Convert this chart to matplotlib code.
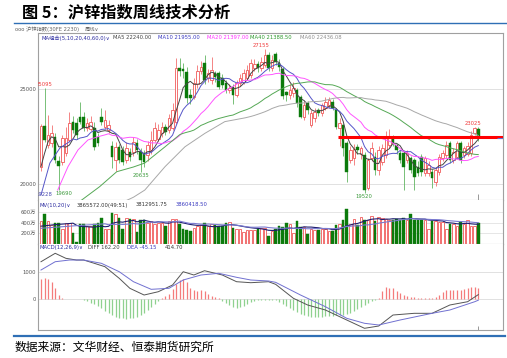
import numpy as np
import pandas as pd
import matplotlib
matplotlib.use("Agg")
import matplotlib.pyplot as plt
import matplotlib.lines as mlines

plt.rcParams["font.family"] = ["DejaVu Sans", "Noto Sans CJK SC"]

# ---- weekly bars, 沪锌指数 ----
opens = [20920, 23070, 22060, 22150, 22500, 21230, 21180, 21640, 22330, 23280,
         23250, 23560, 23560, 22960, 22900, 22960, 22500, 23540, 23030, 22860,
         22010, 21270, 21940, 21800, 21270, 21710, 21710, 22150, 21710, 21620,
         21540, 21800, 22330, 22400, 22680, 23030, 22860, 22950, 23300, 26120,
         26070, 25940, 24710, 24620, 25300, 26000, 26380, 25600, 25500, 25870,
         25860, 25600, 25330, 24970, 25150, 24700, 25330, 25420, 25600, 25770,
         26120, 26350, 26120, 26300, 26830, 26120, 26880, 26390, 26100, 24870,
         24700, 24800, 24970, 24620, 23560, 24270, 23120, 23480, 23910, 23740,
         24000, 24180, 24350, 23920, 22950, 23120, 22150, 21270, 21400, 21980,
         21600, 21540, 19770, 21360, 21440, 20740, 21180, 21540, 22060, 22420,
         22060, 21620, 21620, 21270, 21360, 21270, 20900, 21450, 20560, 20560,
         20650, 20120, 20650, 21360, 21540, 22150, 21270, 21450, 22150, 21540,
         21600, 21620, 22680, 22900]
highs = [23150, 25095, 23650, 23100, 22700, 21500, 22600, 23000, 23800, 23600,
         23500, 24340, 23800, 23500, 23600, 23300, 22700, 24000, 23900, 23400,
         22300, 22200, 22100, 22000, 22200, 21900, 22500, 22400, 21900, 21800,
         22300, 22800, 23300, 23200, 23300, 23200, 23700, 24300, 26670, 26670,
         26400, 26200, 25000, 25600, 26300, 26500, 26800, 26100, 26700, 26000,
         26000, 25800, 25500, 25300, 25300, 25500, 25800, 26100, 26300, 26600,
         26600, 26500, 26700, 27155, 27000, 26800, 27000, 26600, 26200, 24900,
         25300, 25400, 25100, 24700, 24400, 24400, 23900, 24000, 24000, 24300,
         24600, 24600, 24500, 24000, 23500, 23200, 22300, 22000, 22100, 22100,
         22000, 21700, 21400, 22200, 21700, 22000, 22100, 22800, 22900, 22600,
         22100, 21800, 21800, 21800, 21500, 21400, 21200, 21600, 21500, 21200,
         20800, 20900, 21600, 21800, 22300, 22300, 21900, 22300, 22300, 22000,
         22200, 22800, 23025, 23000]
lows = [20700, 22200, 21900, 21950, 21100, 19690, 21000, 21500, 22200, 22700,
        22400, 23150, 22800, 22800, 22800, 21800, 22000, 23100, 22900, 22700,
        20850, 20700, 21100, 21000, 21100, 21200, 21500, 21600, 20635, 20900,
        21200, 21600, 22200, 22250, 22500, 22600, 22700, 22850, 23200, 25700,
        25600, 24300, 24250, 24500, 25100, 25800, 25300, 25400, 25300, 25400,
        25000, 25100, 24800, 24800, 24250, 24600, 25200, 25300, 25500, 25600,
        26000, 25900, 26000, 26200, 26000, 26000, 26300, 26000, 24500, 24400,
        24500, 24600, 24100, 23500, 23400, 23700, 23000, 23300, 23600, 23600,
        23900, 24000, 23900, 22900, 22000, 21500, 20100, 21100, 21000, 21600,
        21300, 19520, 19700, 21200, 20500, 20500, 21000, 21400, 21900, 22000,
        21600, 21100, 19700, 21100, 20600, 19700, 20400, 20400, 20400, 20400,
        19800, 19900, 20500, 21200, 21400, 21100, 21100, 21300, 21100, 21400,
        21500, 21500, 22600, 22300]
closes = [23070, 22330, 22590, 22680, 21270, 20950, 22430, 22430, 23230, 22860,
          22600, 23300, 22950, 23230, 23300, 21970, 22150, 23300, 23390, 23120,
          21450, 21970, 21270, 21180, 21890, 21450, 22240, 21800, 21270, 21180,
          22060, 22330, 22950, 22860, 23030, 22760, 23480, 23920, 26120, 25990,
          25990, 24530, 24530, 25330, 26000, 26200, 25500, 25870, 26030, 25640,
          25150, 25240, 24970, 25100, 24700, 25330, 25600, 25860, 26030, 26390,
          26350, 26120, 26470, 26830, 26120, 26560, 26470, 26200, 24650, 24710,
          24970, 25100, 24270, 23560, 24180, 23920, 23740, 23830, 23740, 24180,
          24350, 24440, 24000, 23030, 23210, 21890, 20650, 21800, 21850, 21800,
          21900, 19690, 21270, 21890, 20740, 21800, 21890, 22420, 22500, 22150,
          21800, 21270, 20920, 21620, 20740, 20390, 20600, 20650, 21360, 21000,
          20300, 20740, 21450, 21620, 22060, 21270, 21710, 22150, 21270, 21890,
          22000, 22600, 22950, 22420]
# volume, 万手
volumes = [433, 562, 438, 356, 400, 400, 279, 400, 400, 208,
           30, 375, 375, 336, 336, 375, 400, 480, 279, 285,
           580, 562, 487, 279, 487, 475, 475, 220, 443, 443,
           400, 420, 380, 400, 400, 330, 420, 460, 470, 380,
           270, 255, 240, 300, 330, 356, 400, 330, 375, 345,
           330, 330, 390, 410, 300, 270, 270, 210, 250, 250,
           250, 280, 300, 300, 140, 240, 279, 336, 310, 400,
           375, 200, 420, 310, 310, 190, 279, 265, 250, 279,
           279, 240, 240, 360, 375, 455, 660, 375, 468, 360,
           505, 455, 443, 530, 430, 505, 487, 468, 455, 443,
           475, 455, 487, 443, 570, 443, 443, 443, 443, 279,
           430, 430, 405, 405, 279, 380, 380, 330, 405, 380,
           443, 340, 340, 387]
macd_hist = [740, 765, 740, 617, 395, 148, 40,
             15, 10, 8, 5, -10,
             -40, -80, -130, -190, -270, -350, -430, -520, -590, -650,
             -700, -720, -730, -720, -700, -650, -590, -500, -400, -280, -180, -70,
             40, 100, 200, 380, 570, 700, 740, 620, 420, 320, 300, 330, 280, 180, 120, 60, 20,
             -60, -150, -230, -290, -320, -300, -260, -200, -120, -60, -40, -30, -40, -40, -30,
             -30, -100, -180, -260, -340, -410, -480, -540, -600, -640,
             -660, -660, -660, -650, -640, -630, -620, -610, -600, -580,
             -560, -500, -430, -360, -290, -210, -150, -90, -40,
             40, 300, 430, 420, 390, 300, 220, 160, 120, 90,
             65, 50, 40, 30, 25, 20, 80, 160, 270, 350,
             340, 330, 350, 330, 360, 390, 430, 440, 415]
diff_idx = [0, 4, 7, 10, 12, 15, 18, 22, 25, 29, 33, 37, 40, 43, 46, 51, 55, 59,
            64, 66, 71, 75, 80, 86, 91, 95, 99, 105, 110, 115, 120, 123]
diff_val = [1381, 1693, 1507, 1444, 1444, 1322, 1196, 767, 396, 148, 270, 518,
            1011, 889, 1048, 889, 641, 604, 641, 544, 26, -222, -407, -778,
            -1085, -1000, -593, -530, -530, -222, -100, 162]
dea_idx = [0, 4, 8, 12, 17, 22, 26, 31, 36, 40, 45, 50, 55, 59, 64, 66, 73, 80,
           86, 91, 95, 101, 110, 115, 122, 123]
dea_val = [1074, 1381, 1444, 1444, 1322, 1011, 641, 359, 396, 704, 889, 952, 804,
           704, 667, 618, 148, -285, -715, -900, -963, -778, -530, -407, -100, -45]

ma5_lead_idx, ma5_lead = [0, 1, 2, 3], [20920, 21620, 22240, 22500]
ma10_lead_idx, ma10_lead = [0, 2.5, 5.3, 8], [19420, 21110, 21900, 22240]
ma20_lead_idx, ma20_lead = [4.7, 7.6, 10.4, 13.2, 16, 18], [19680, 20920, 21800, 22330, 22500, 22600]
ma40_lead_idx, ma40_lead = [10, 16.5, 21.3, 26, 29.2, 34.9], [18950, 19860, 20650, 20900, 21110, 21970]
ma60_lead_idx, ma60_lead = [22, 26, 29.2, 34.9, 40.5, 46.1, 51.7, 57.4], [18950, 19300, 19680, 20920, 21970, 22680, 23300, 23500]
mv10_lead_idx, mv10_lead = [0, 4, 8], [330, 360, 380]
mv20_lead_idx, mv20_lead = [0, 10, 18], [290, 340, 375]

support_level = 22500
support_from = 83.5

# (bar index, text, horizontal nudge in bars)
high_marks = [(1, "25095", 0), (63, "27155", -1.2), (122, "23025", -0.4)]
low_marks = [(5, "19690", 1.3), (28, "20635", 0), (91, "19520", -0.3)]

W, H = 507, 358
fig = plt.figure(figsize=(W / 100, H / 100), dpi=100)
fig.patch.set_facecolor("white")


def px_axes(x0, y0, x1, y1):
    return fig.add_axes([x0 / W, 1 - y1 / H, (x1 - x0) / W, (y1 - y0) / H])


def ftext(x, y, s, **kw):
    kw.setdefault("va", "center")
    fig.text(x / W, 1 - y / H, s, **kw)


def fline(y, x0, x1, **kw):
    fig.add_artist(mlines.Line2D([x0 / W, x1 / W], [1 - y / H] * 2, **kw))


def ma_line(vals, n, lead_idx, lead_val):
    full = pd.Series(vals, dtype=float).rolling(n).mean().values
    xs = list(lead_idx) + list(range(n - 1, len(vals)))
    ys = list(lead_val) + list(full[n - 1:])
    return xs, ys


o = np.array(opens, float)
h = np.array(highs, float)
l = np.array(lows, float)
c = np.array(closes, float)
v = np.array(volumes, float)
x = np.arange(len(c))
up = c >= o

xlim = (-0.84, 129.95)
GRID = "#DCDCDC"
SPINE = "#A0A0A0"
RED_E = "#F05A5A"
GREEN_F = "#0B7A0B"

ax_p = px_axes(38, 33, 503, 200)
ax_v = px_axes(38, 200, 503, 243.5)
ax_m = px_axes(38, 243.5, 503, 330)

for ax in (ax_p, ax_v, ax_m):
    ax.set_xlim(*xlim)
    ax.set_xticks([])
    for s in ax.spines.values():
        s.set_color(SPINE)
        s.set_linewidth(0.8)
    ax.tick_params(axis="y", length=0, pad=1.3, labelsize=3.8, labelcolor="#555555")
ax_v.spines["top"].set_visible(False)
ax_m.spines["top"].set_visible(False)

# ---- price panel ----
ax_p.set_ylim(19154, 27989)
ax_p.set_yticks([20000, 25000])
for lv in (20000, 25000):
    ax_p.axhline(lv, color=GRID, lw=0.6, zorder=0)

wick_cols = np.where(up, "#F27070", "#62B562")
ax_p.vlines(x, l, h, colors=wick_cols, lw=0.6, zorder=2)
body_lo = np.minimum(o, c)
body_h = np.maximum(np.abs(c - o), 40)
ax_p.bar(x[up], body_h[up], bottom=body_lo[up], width=0.72, facecolor="white",
         edgecolor=RED_E, lw=0.6, zorder=3)
ax_p.bar(x[~up], body_h[~up], bottom=body_lo[~up], width=0.72, facecolor=GREEN_F,
         edgecolor=GREEN_F, lw=0.3, zorder=3)

ma_specs = [(5, ma5_lead_idx, ma5_lead, "#444444"),
            (10, ma10_lead_idx, ma10_lead, "#5555C8"),
            (20, ma20_lead_idx, ma20_lead, "#FF55FF"),
            (40, ma40_lead_idx, ma40_lead, "#55A855"),
            (60, ma60_lead_idx, ma60_lead, "#A8A8A8")]
for n, li, lv, col in ma_specs:
    xs, ys = ma_line(closes, n, li, lv)
    ax_p.plot(xs, ys, color=col, lw=0.7, zorder=4)

ax_p.hlines(support_level, support_from, xlim[1], color="#FF0000", lw=2.2, zorder=5)
ax_p.hlines(c[-1], 128.3, xlim[1], color="#6A6AD0", lw=0.8, zorder=5)
ax_p.vlines(len(c) - 1, 19154, 19154 + 300, color="#888888", lw=0.6)

for i, s, dx in high_marks:
    ax_p.text(i + dx, h[i] + 60, s, ha="center", va="bottom", fontsize=3.8,
              color="#F03C3C", clip_on=True, zorder=6)
for i, s, dx in low_marks:
    ax_p.text(i + dx, l[i] - 40, s, ha="center", va="top", fontsize=3.8,
              color="#3C9A3C", clip_on=True, zorder=6)
ax_p.text(0.9, 19420, "19228", ha="center", va="center", fontsize=3.8,
          color="#4A4AB0", clip_on=True, zorder=6)

# ---- volume panel ----
ax_v.set_ylim(0, 829)
ax_v.set_yticks([200, 400, 600])
ax_v.set_yticklabels(["200万", "400万", "600万"])
for lv in (200, 400, 600):
    ax_v.axhline(lv, color=GRID, lw=0.5, zorder=0)
ax_v.bar(x[up], v[up], width=0.72, facecolor="white", edgecolor=RED_E, lw=0.6, zorder=2)
ax_v.bar(x[~up], v[~up], width=0.72, facecolor=GREEN_F, edgecolor=GREEN_F, lw=0.3, zorder=2)
xs, ys = ma_line(volumes, 10, mv10_lead_idx, mv10_lead)
ax_v.plot(xs, ys, color="#1E1E70", lw=0.8, zorder=3)
xs, ys = ma_line(volumes, 20, mv20_lead_idx, mv20_lead)
ax_v.plot(xs, ys, color="#7A7AD0", lw=0.8, zorder=3)

# ---- MACD panel ----
ax_m.set_ylim(-1148, 2056)
ax_m.set_yticks([0, 1000])
for lv in (0, 1000):
    ax_m.axhline(lv, color=GRID, lw=0.6, zorder=0)
hist = np.array(macd_hist, float)
ax_m.vlines(x, 0, hist, colors=np.where(hist >= 0, "#F47C7C", "#8FD18F"), lw=0.9, zorder=2)
ax_m.plot(diff_idx, diff_val, color="#555555", lw=0.7, zorder=3)
ax_m.plot(dea_idx, dea_val, color="#7070D0", lw=0.7, zorder=3)
ax_m.vlines(len(c) - 1, -1148, -1148 + 150, color="#888888", lw=0.6)

# ---- header texts ----
fs = 3.8
ftext(15, 29.5, "ooo 沪锌指数(30FE 2230)", fontsize=fs, color="#666666")
ftext(85, 29.5, "周线∨", fontsize=fs, color="#666666")
for xx, s, col in [(41, "MA组合(5,10,20,40,60,0)∨", "#2B2BA0"),
                   (113.3, "MA5 22240.00", "#444444"),
                   (158.3, "MA10 21955.00", "#3A3AC0"),
                   (206.7, "MA20 21397.00", "#FF30FF"),
                   (250, "MA40 21388.50", "#2E9A2E"),
                   (300, "MA60 22436.08", "#909090")]:
    ftext(xx, 37.8, s, fontsize=fs, color=col)
for xx, s, col in [(40, "MV(10,20)∨", "#2B2BA0"),
                   (77, "3865572.00(49:51)", "#333333"),
                   (136, "3812951.75", "#333333"),
                   (176, "3860418.50", "#3A3AC0")]:
    ftext(xx, 205, s, fontsize=fs, color=col)
for xx, s, col in [(40, "MACD(12,26,9)∨", "#2B2BA0"),
                   (88, "DIFF 162.20", "#444444"),
                   (127, "DEA -45.15", "#3A3AC0"),
                   (165, "414.70", "#333333")]:
    ftext(xx, 247.5, s, fontsize=fs, color=col)

# ---- title, rules, source ----
ftext(21.5, 12.5, "图 5：沪锌指数周线技术分析", fontsize=11.7, fontweight="bold",
      family=["Noto Sans CJK SC", "DejaVu Sans"], color="black")
fline(23.3, 14, 507, color="#2F6FB5", lw=1.0)
fline(336, 14, 505, color="#2F6FB5", lw=1.6)
ftext(14.5, 347.5, "数据来源：文华财经、恒泰期货研究所", fontsize=8.5,
      family=["Noto Sans CJK SC", "DejaVu Sans"], color="black")

fig.savefig("out.png", dpi=100)
